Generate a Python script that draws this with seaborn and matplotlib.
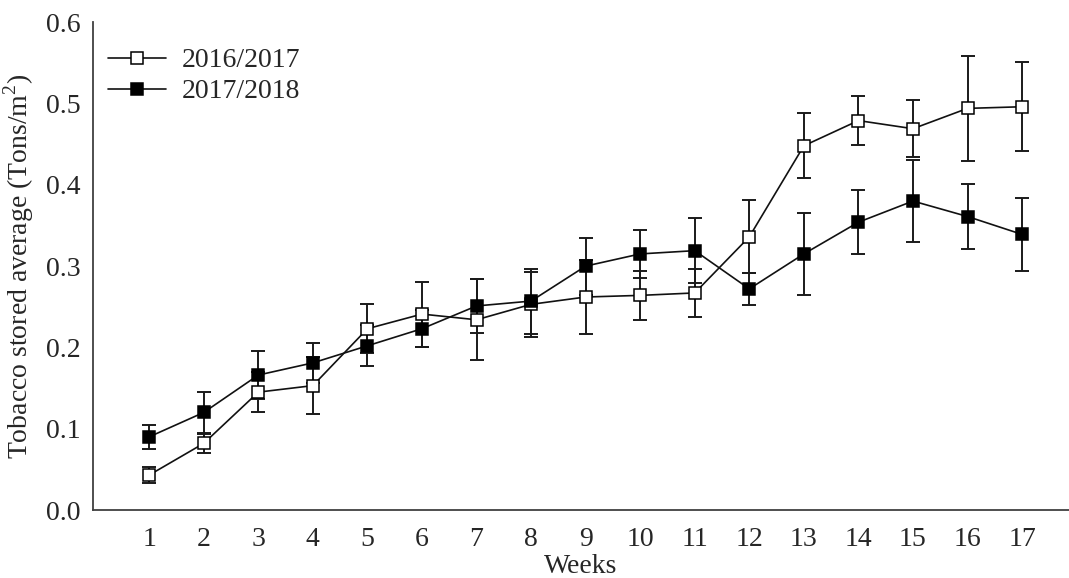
import numpy as np
import pandas as pd
import matplotlib
matplotlib.use("Agg")
import matplotlib.pyplot as plt
import seaborn as sns

weeks = list(range(1, 18))
season_a = "2016/2017"
season_b = "2017/2018"
mean_a = [0.043, 0.082, 0.145, 0.153, 0.223, 0.241, 0.234, 0.253, 0.262, 0.264,
          0.267, 0.336, 0.448, 0.479, 0.469, 0.494, 0.496]
err_a = [0.010, 0.012, 0.025, 0.035, 0.030, 0.040, 0.050, 0.040, 0.045, 0.030,
         0.030, 0.045, 0.040, 0.030, 0.035, 0.065, 0.055]
mean_b = [0.090, 0.120, 0.166, 0.181, 0.202, 0.223, 0.251, 0.257, 0.300, 0.315,
          0.319, 0.272, 0.315, 0.354, 0.380, 0.361, 0.339]
err_b = [0.015, 0.025, 0.030, 0.025, 0.025, 0.023, 0.033, 0.040, 0.035, 0.030,
         0.040, 0.020, 0.050, 0.039, 0.050, 0.040, 0.045]

df = pd.DataFrame({
    "week": weeks * 2,
    "value": mean_a + mean_b,
    "err": err_a + err_b,
    "season": [season_a] * len(weeks) + [season_b] * len(weeks),
})

sns.set_style("white")
plt.rcParams["font.family"] = ["Liberation Serif", "DejaVu Serif"]
plt.rcParams["mathtext.fontset"] = "custom"
plt.rcParams["mathtext.rm"] = "Liberation Serif"

fig = plt.figure(figsize=(10.69, 5.78), dpi=100)
ax = fig.add_axes([0.087, 0.1176, 0.913, 0.844])

styles = {season_a: "white", season_b: "black"}
for s, face in styles.items():
    d = df[df["season"] == s]
    ax.errorbar(d["week"], d["value"], yerr=d["err"], fmt="none",
                ecolor="#1a1a1a", elinewidth=1.4, capsize=5, capthick=1.4, zorder=2)
    sns.lineplot(data=d, x="week", y="value", ax=ax, color="#111111",
                 linewidth=1.2, marker="s", markersize=8, markerfacecolor=face,
                 markeredgecolor="black", markeredgewidth=1.1, label=s, zorder=3)

ax.set_xlim(-0.03, 17.86)
ax.set_ylim(0, 0.6)
ax.set_xticks(weeks)
ax.set_yticks(np.arange(0, 0.61, 0.1))
ax.set_yticklabels([f"{v:.1f}" for v in np.arange(0, 0.61, 0.1)])
ax.tick_params(length=0, labelsize=20)
ax.tick_params(axis="x", pad=12)
ax.tick_params(axis="y", pad=9)
ax.set_xlabel("Weeks", fontsize=20, labelpad=2)
ax.set_ylabel(r"Tobacco stored average (Tons/m$^{2}$)", fontsize=20)
ax.yaxis.set_label_coords(-0.058, 0.5)

for side in ["top", "right"]:
    ax.spines[side].set_visible(False)
for side in ["left", "bottom"]:
    ax.spines[side].set_color("#404040")
    ax.spines[side].set_linewidth(1.3)

ax.legend(loc="upper left", frameon=False, fontsize=20, handlelength=2.1,
          handletextpad=0.55, labelspacing=0.2, borderaxespad=0.0,
          bbox_to_anchor=(0.004, 0.97))

fig.savefig("out.png", dpi=100)
